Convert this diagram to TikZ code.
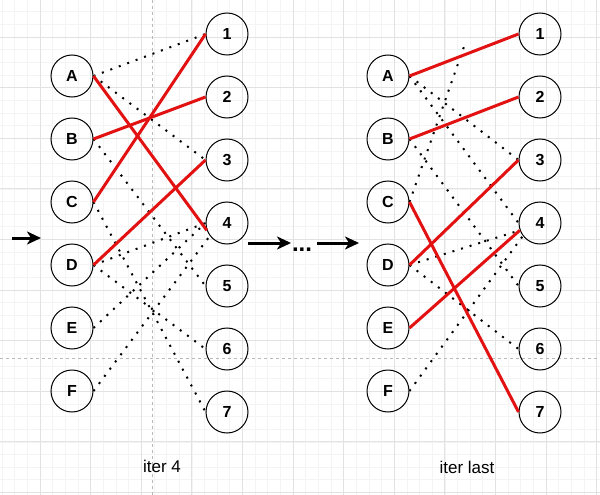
\documentclass[tikz,border=0pt]{standalone}
\usepackage{fontspec}
\setmainfont{Liberation Sans}
\usetikzlibrary{arrows.meta}
\definecolor{edgered}{RGB}{226,18,18}
\definecolor{gridminor}{RGB}{244,244,244}
\definecolor{gridmajor}{RGB}{226,226,226}
\begin{document}
\begin{tikzpicture}[x=1pt,y=-1pt,
  vtx/.style={circle,draw=black,line width=1pt,minimum size=42pt,inner sep=0pt,
    font=\bfseries\fontsize{16}{16}\selectfont},
  match/.style={draw=edgered,line width=3pt},
  cand/.style={draw=black,line width=2pt,dash pattern=on 2pt off 7pt},
  flow/.style={draw=black,line width=3pt,-{Stealth[length=14pt,width=13pt,inset=4pt]}},
  lbl/.style={font=\fontsize{17}{17}\selectfont},
  minorline/.style={draw=gridminor,line width=0.6pt},
  majorline/.style={draw=gridmajor,line width=0.8pt},
  pageline/.style={draw=gray!55,line width=0.6pt,dash pattern=on 3pt off 3pt}]
\useasboundingbox[fill=white] (0,0) rectangle (600,495);
% grid
\foreach \i in {0,...,47} { \draw[minorline] ({2.05+12.65*\i},0) -- ++(0,495); }
\foreach \i in {0,...,38} { \draw[minorline] (0,{11.7+12.65*\i}) -- ++(600,0); }
\foreach \i in {0,...,11} { \draw[majorline] ({40+50.6*\i},0) -- ++(0,495); }
\foreach \i in {0,...,9} { \draw[majorline] (0,{37+50.6*\i}) -- ++(600,0); }
\draw[pageline] (152,0) -- (152,495);
\draw[pageline] (0,358) -- (600,358);
% left graph nodes
\node[vtx] (lA) at (72,76) {A};
\node[vtx] (lB) at (72,139) {B};
\node[vtx] (lC) at (72,202) {C};
\node[vtx] (lD) at (72,265) {D};
\node[vtx] (lE) at (72,328) {E};
\node[vtx] (lF) at (72,391) {F};
\node[vtx] (l1) at (227,34) {1};
\node[vtx] (l2) at (227,97) {2};
\node[vtx] (l3) at (227,160) {3};
\node[vtx] (l4) at (227,223) {4};
\node[vtx] (l5) at (227,286) {5};
\node[vtx] (l6) at (227,349) {6};
\node[vtx] (l7) at (227,412) {7};
% right graph nodes
\node[vtx] (rA) at (388,76) {A};
\node[vtx] (rB) at (388,139) {B};
\node[vtx] (rC) at (388,202) {C};
\node[vtx] (rD) at (388,265) {D};
\node[vtx] (rE) at (388,328) {E};
\node[vtx] (rF) at (388,391) {F};
\node[vtx] (r1) at (540,34) {1};
\node[vtx] (r2) at (540,97) {2};
\node[vtx] (r3) at (540,160) {3};
\node[vtx] (r4) at (540,223) {4};
\node[vtx] (r5) at (540,286) {5};
\node[vtx] (r6) at (540,349) {6};
\node[vtx] (r7) at (540,412) {7};
% left graph candidate edges
\draw[cand] (lA.east) -- (l1.west);
\draw[cand] (lA.east) -- (l3.west);
\draw[cand] (lB.east) -- (l5.west);
\draw[cand] (lC.east) -- (l7.west);
\draw[cand] (lD.east) -- (l4.west);
\draw[cand] (lD.east) -- (l6.west);
\draw[cand] (lE.east) -- (l4.west);
\draw[cand] (lF.east) -- (l4.217);
% left graph matching
\draw[match] (lA.east) -- (l4.200);
\draw[match] (lB.east) -- (l2.west);
\draw[match] (lC.east) -- (l1.west);
\draw[match] (lD.east) -- (l3.west);
% right graph candidate edges
\coordinate (rCtop) at (466,41);
\draw[cand] (rA.east) -- (r3.west);
\draw[cand] (rA.east) -- (r4.west);
\draw[cand] (rB.east) -- (r5.west);
\draw[cand] (rC.east) -- (rCtop);
\draw[cand] (rD.east) -- (r4.200);
\draw[cand] (rD.east) -- (r6.west);
\draw[cand] (rF.east) -- (r4.217);
% right graph matching
\draw[match] (rA.east) -- (r1.west);
\draw[match] (rB.east) -- (r2.west);
\draw[match] (rC.east) -- (r7.west);
\draw[match] (rD.east) -- (r3.west);
\draw[match] (rE.east) -- (r4.200);
% flow arrows
\coordinate (a0) at (12,238);
\coordinate (a1) at (41,238);
\coordinate (b0) at (248,243);
\coordinate (b1) at (291,243);
\coordinate (c0) at (317,243);
\coordinate (c1) at (359,243);
\draw[flow] (a0) -- (a1);
\draw[flow] (b0) -- (b1);
\draw[flow] (c0) -- (c1);
\node[font=\bfseries\fontsize{24}{24}\selectfont,anchor=base,inner sep=0pt] (dots) at (302,251) {...};
% captions
\node[lbl] (t1) at (162,466) {iter 4};
\node[lbl] (t2) at (467,467) {iter last};
\end{tikzpicture}
\end{document}
